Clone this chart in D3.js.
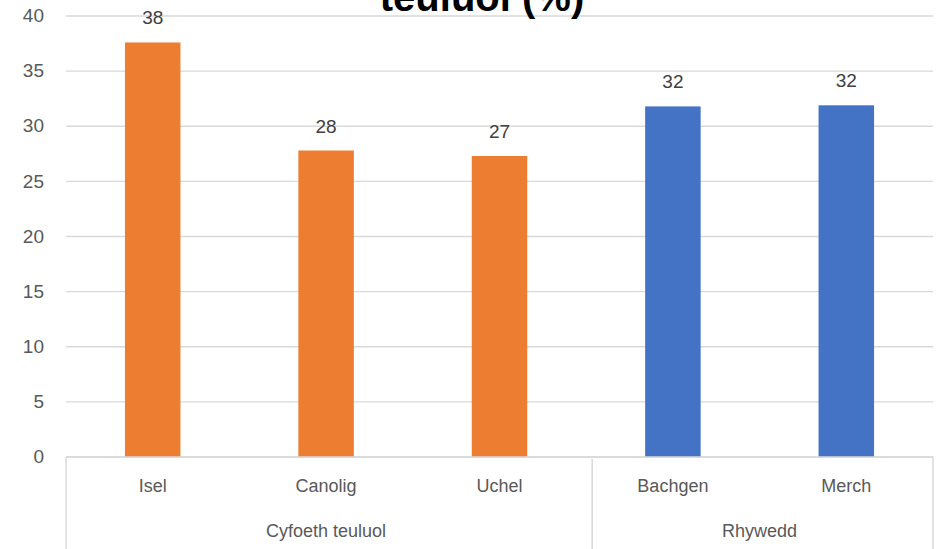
<!DOCTYPE html>
<html>
<head>
<meta charset="utf-8">
<script src="https://cdn.jsdelivr.net/npm/d3@7"></script>
<style>
  body { margin: 0; background: #fff; }
  svg { display: block; font-family: "Liberation Sans", "Noto Sans", sans-serif; }
</style>
</head>
<body>
<div id="container"></div>
<script>
// chart data
const categories = ["Isel", "Canolig", "Uchel", "Bachgen", "Merch"];
const values = [37.6, 27.8, 27.3, 31.8, 31.9];
const valueLabels = ["38", "28", "27", "32", "32"];
const groups = [
    { name: "Cyfoeth teuluol", members: ["Isel", "Canolig", "Uchel"], color: "#ED7D31" },
    { name: "Rhywedd", members: ["Bachgen", "Merch"], color: "#4472C4" }
];
const yTicks = [0, 5, 10, 15, 20, 25, 30, 35, 40];
const titleText = "teuluol (%)";

const width = 938, height = 549;
const margin = { top: 16, right: 5, bottom: 92, left: 66 };
const plotW = width - margin.left - margin.right;
const plotH = height - margin.top - margin.bottom;

const svg = d3.select("#container")
    .append("svg")
        .attr("width", width)
        .attr("height", height);

const x = d3.scaleBand()
    .domain(categories)
    .range([margin.left, margin.left + plotW])
    .paddingInner(0.68)
    .paddingOuter(0.34);

const y = d3.scaleLinear()
    .domain([0, 40])
    .range([margin.top + plotH, margin.top]);

function colorOf(cat) {
    return groups.find(g => g.members.includes(cat)).color;
}

// gridlines
svg.append("g")
    .selectAll("line")
    .data(yTicks)
    .enter().append("line")
        .attr("x1", margin.left)
        .attr("x2", margin.left + plotW)
        .attr("y1", d => y(d))
        .attr("y2", d => y(d))
        .attr("stroke", "#d9d9d9")
        .attr("stroke-width", 1.3);

// y axis labels
const yAxis = svg.append("g")
    .attr("transform", "translate(" + (margin.left - 22) + ",0)")
    .call(d3.axisLeft(y).tickValues(yTicks).tickSize(0).tickPadding(0));
yAxis.select(".domain").remove();
yAxis.selectAll("text")
    .attr("fill", "#595959")
    .attr("font-size", 19)
    .attr("dy", "0.3em");

// bars
svg.append("g")
    .selectAll("rect")
    .data(categories)
    .enter().append("rect")
        .attr("x", d => x(d))
        .attr("width", x.bandwidth())
        .attr("y", (d, i) => y(values[i]))
        .attr("height", (d, i) => y(0) - y(values[i]))
        .attr("fill", d => colorOf(d));

// value labels
svg.append("g")
    .selectAll("text")
    .data(categories)
    .enter().append("text")
        .attr("x", d => x(d) + x.bandwidth() / 2)
        .attr("y", (d, i) => y(values[i]) - 18)
        .attr("text-anchor", "middle")
        .attr("fill", "#404040")
        .attr("font-size", 19)
        .text((d, i) => valueLabels[i]);

// multi-level category axis
const axisY = y(0);
const step = x.step();
const axisG = svg.append("g").attr("stroke", "#d9d9d9").attr("stroke-width", 1.5).attr("fill", "none");
axisG.append("line")
    .attr("x1", margin.left).attr("x2", margin.left + plotW)
    .attr("y1", axisY).attr("y2", axisY);
axisG.append("line")
    .attr("x1", margin.left).attr("x2", margin.left)
    .attr("y1", axisY).attr("y2", height);
axisG.append("line")
    .attr("x1", margin.left + plotW).attr("x2", margin.left + plotW)
    .attr("y1", axisY).attr("y2", height);

// group labels and separator between groups
groups.forEach((g, gi) => {
    const start = x(g.members[0]) - x.paddingInner() * step / 2;
    const end = x(g.members[g.members.length - 1]) + x.bandwidth() + x.paddingInner() * step / 2;
    if (gi > 0) {
        axisG.append("line")
            .attr("x1", start + 6).attr("x2", start + 6)
            .attr("y1", axisY + 2).attr("y2", height);
    }
    svg.append("text")
        .attr("x", (start + end) / 2)
        .attr("y", 537)
        .attr("text-anchor", "middle")
        .attr("fill", "#595959")
        .attr("font-size", 18)
        .text(g.name);
});

svg.append("g")
    .selectAll("text")
    .data(categories)
    .enter().append("text")
        .attr("x", d => x(d) + x.bandwidth() / 2)
        .attr("y", 492)
        .attr("text-anchor", "middle")
        .attr("fill", "#595959")
        .attr("font-size", 18)
        .text(d => d);

// title, only its lower line is inside the picture
svg.append("text")
    .attr("x", 482)
    .attr("y", 11)
    .attr("text-anchor", "middle")
    .attr("fill", "#000")
    .attr("font-size", 40)
    .attr("font-weight", "bold")
    .text(titleText);
</script>
</body>
</html>
